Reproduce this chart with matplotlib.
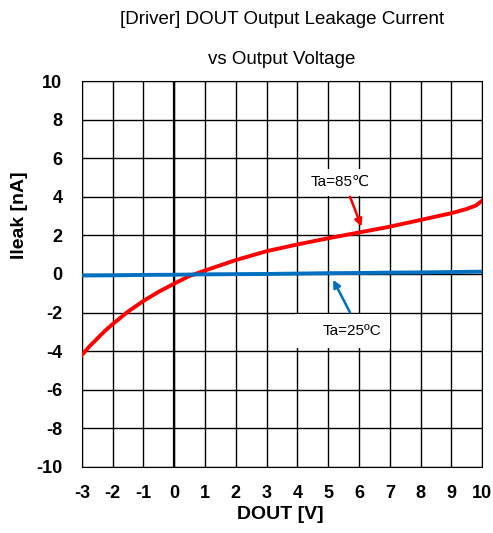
import matplotlib
matplotlib.use("Agg")
import matplotlib.pyplot as plt
from matplotlib.patches import Rectangle

plt.rcParams['font.family'] = ['Liberation Sans', 'DejaVu Sans']
plt.rcParams['axes.unicode_minus'] = False

v85 = [-3, -2.75, -2.5, -2.25, -2, -1.5, -1, -0.5, 0, 0.5, 1, 1.5, 2, 3, 4, 5, 6, 7, 8, 9, 9.5, 9.8, 10]
i85 = [-4.2, -3.75, -3.35, -2.95, -2.6, -1.95, -1.4, -0.92, -0.5, -0.1, 0.18, 0.45, 0.72, 1.18, 1.53, 1.85, 2.15, 2.45, 2.8, 3.15, 3.37, 3.55, 3.8]
v25 = [-3, -2, -1, 0, 1, 2, 3, 4, 5, 6, 7, 8, 9, 10]
i25 = [-0.08, -0.07, -0.05, -0.04, -0.02, -0.01, 0.0, 0.02, 0.04, 0.05, 0.07, 0.08, 0.1, 0.12]
xticks = list(range(-3, 11))
yticks = list(range(-10, 11, 2))

fig = plt.figure(figsize=(4.93, 5.33), dpi=100)
ax = fig.add_axes([0.166, 0.124, 0.812, 0.724])
ax.plot(v85, i85, color='#ff0000', lw=2.8, zorder=3)
ax.plot(v25, i25, color='#0070c0', lw=2.8, zorder=3)
ax.set_xlim(-3, 10)
ax.set_ylim(-10, 10)
ax.set_xticks(xticks)
ax.set_yticks(yticks)
ax.grid(True, color='black', lw=1)
ax.axvline(0, color='black', lw=1.6)
for s in ax.spines.values():
    s.set_color('black')
ax.tick_params(length=0, labelsize=13)
ax.tick_params(axis='y', pad=14)
ax.tick_params(axis='x', pad=13)
for lab in ax.get_xticklabels() + ax.get_yticklabels():
    lab.set_fontweight('bold')
ax.set_xlabel('DOUT [V]', fontsize=14, fontweight='bold', va='center')
ax.set_ylabel('Ileak [nA]', fontsize=14, fontweight='bold', va='center')
ax.xaxis.set_label_coords(0.495, -0.124)
ax.yaxis.set_label_coords(-0.155, 0.653)
fig.text(0.572, 0.963, '[Driver] DOUT Output Leakage Current', ha='center', va='center', fontsize=13.5)
fig.text(0.572, 0.889, 'vs Output Voltage', ha='center', va='center', fontsize=13.5)

ax.add_patch(Rectangle((4.25, 4.06), 2.15, 1.4, fc='white', ec='none', zorder=2))
ax.text(5.38, 4.77, 'Ta=85\u2103', ha='center', va='center', fontsize=11, zorder=4)
ax.annotate('', xy=(6.08, 2.45), xytext=(5.71, 4.0),
            arrowprops=dict(arrowstyle='-|>', color='#ff0000', lw=1.8, shrinkA=0, shrinkB=0, mutation_scale=11), zorder=4)
ax.add_patch(Rectangle((3.93, -3.85), 3.07, 1.8, fc='white', ec='none', zorder=2))
ax.text(5.77, -2.95, 'Ta=25\u00baC', ha='center', va='center', fontsize=11, zorder=4)
ax.annotate('', xy=(5.16, -0.3), xytext=(5.71, -2.0),
            arrowprops=dict(arrowstyle='-|>', color='#0070c0', lw=1.8, shrinkA=0, shrinkB=0, mutation_scale=11), zorder=4)

fig.savefig('out.png', dpi=100)
